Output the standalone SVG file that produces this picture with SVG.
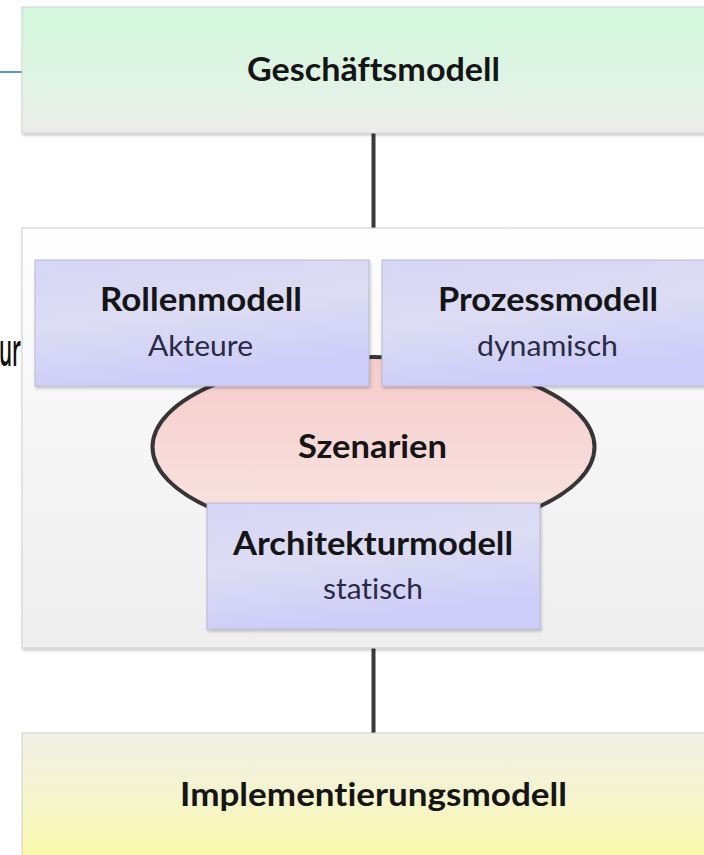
<svg xmlns="http://www.w3.org/2000/svg" width="704" height="855" viewBox="0 0 704 855">
  <style>
    text { font-variant-ligatures: none; }
    .title { font-family: Lato, "Open Sans", "Liberation Sans", sans-serif; font-weight: 700; font-size: 32px; fill: #151515; text-anchor: middle; }
    .sub { font-family: Lato, "Open Sans", "Liberation Sans", sans-serif; font-weight: 400; font-size: 28px; fill: #2a2a44; text-anchor: middle; }
    .blue { fill: url(#gBlue); stroke: #b9b9cf; stroke-width: 1; filter: url(#sh); }
    .conn { stroke: #3a3a3a; stroke-width: 4; fill: none; }
  </style>
  <defs>
    <linearGradient id="gGreen" x1="0" y1="0" x2="0" y2="1">
      <stop offset="0" stop-color="#d2f8dc"/>
      <stop offset="0.6" stop-color="#e0f3e4"/>
      <stop offset="1" stop-color="#ececec"/>
    </linearGradient>
    <linearGradient id="gPanel" x1="0" y1="0" x2="0" y2="1">
      <stop offset="0" stop-color="#fefefe"/>
      <stop offset="1" stop-color="#eeeeee"/>
    </linearGradient>
    <linearGradient id="gYellow" x1="0" y1="0" x2="0" y2="1">
      <stop offset="0" stop-color="#f1f0e7"/>
      <stop offset="0.5" stop-color="#f5f4cc"/>
      <stop offset="1" stop-color="#fafaa6"/>
    </linearGradient>
    <linearGradient id="gBlue" x1="0" y1="0" x2="0.3" y2="1">
      <stop offset="0" stop-color="#d6d6f6"/>
      <stop offset="0.5" stop-color="#dcdcf3"/>
      <stop offset="1" stop-color="#cdcdfa"/>
    </linearGradient>
    <linearGradient id="gPink" x1="0" y1="0" x2="0" y2="1">
      <stop offset="0" stop-color="#f6cbcb"/>
      <stop offset="1" stop-color="#f8e6e2"/>
    </linearGradient>
    <filter id="sh" x="-5%" y="-5%" width="110%" height="115%">
      <feDropShadow dx="1" dy="2" stdDeviation="1.5" flood-color="#000" flood-opacity="0.22"/>
    </filter>
  </defs>

  <rect width="704" height="855" fill="#ffffff"/>

  <line x1="0" y1="72" x2="22" y2="72" stroke="#2f6cc0" stroke-width="1.5"/>
  <text x="21" y="366" font-family="'Open Sans', 'Liberation Sans', sans-serif" font-size="46" font-weight="600" fill="#111" text-anchor="end" textLength="22" lengthAdjust="spacingAndGlyphs">ur</text>

  <g id="connectors">
    <line class="conn" x1="373.5" y1="131" x2="373.5" y2="230"/>
    <line class="conn" x1="373.5" y1="646" x2="373.5" y2="735"/>
  </g>

  <g id="geschaeftsmodell">
    <rect x="22" y="7" width="704" height="126" fill="url(#gGreen)" stroke="#d4d4d4" stroke-width="1" filter="url(#sh)"/>
    <text class="title" x="373.5" y="81" textLength="253" lengthAdjust="spacingAndGlyphs">Geschäftsmodell</text>
  </g>

  <g id="panel">
    <rect x="22" y="228" width="704" height="420" fill="url(#gPanel)" stroke="#d0d0d0" stroke-width="1" filter="url(#sh)"/>
  </g>

  <g id="szenarien">
    <ellipse cx="373.5" cy="447" rx="221" ry="90" fill="url(#gPink)" stroke="#363636" stroke-width="4"/>
    <text class="title" x="372.5" y="458" textLength="149" lengthAdjust="spacingAndGlyphs">Szenarien</text>
  </g>

  <g id="rollenmodell">
    <rect class="blue" x="35" y="260" width="334" height="126"/>
    <text class="title" x="201" y="311" textLength="202" lengthAdjust="spacingAndGlyphs">Rollenmodell</text>
    <text class="sub" x="200.5" y="356" textLength="105" lengthAdjust="spacingAndGlyphs">Akteure</text>
  </g>

  <g id="prozessmodell">
    <rect class="blue" x="382" y="260" width="334" height="126"/>
    <text class="title" x="548" y="311" textLength="220" lengthAdjust="spacingAndGlyphs">Prozessmodell</text>
    <text class="sub" x="547.5" y="356" textLength="141" lengthAdjust="spacingAndGlyphs">dynamisch</text>
  </g>

  <g id="architekturmodell">
    <rect class="blue" x="207" y="503" width="333" height="126"/>
    <text class="title" x="373" y="555" textLength="280" lengthAdjust="spacingAndGlyphs">Architekturmodell</text>
    <text class="sub" x="373" y="599" textLength="100" lengthAdjust="spacingAndGlyphs">statisch</text>
  </g>

  <g id="implementierungsmodell">
    <rect x="22" y="733" width="704" height="130" fill="url(#gYellow)" stroke="#d0d0d0" stroke-width="1"/>
    <text class="title" x="373.5" y="806" textLength="387" lengthAdjust="spacingAndGlyphs">Implementierungsmodell</text>
  </g>
</svg>
